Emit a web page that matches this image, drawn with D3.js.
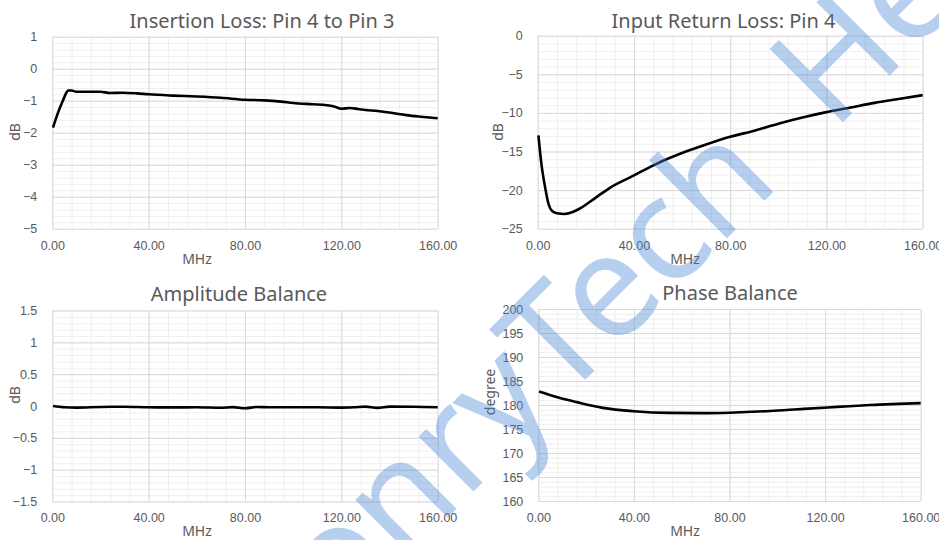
<!DOCTYPE html>
<html>
<head>
<meta charset="utf-8">
<script src="https://cdn.jsdelivr.net/npm/d3@7"></script>
<style>
  html, body { margin: 0; padding: 0; background: #fff; }
  svg { display: block; font-family: "Noto Sans", "Open Sans", sans-serif; }
</style>
</head>
<body>
<svg id="chart" width="939" height="540"></svg>
<script>
// ---- data ----
const xTicks = [0, 40, 80, 120, 160];

const ilFreq = [0.3, 2.5, 4.5, 5.5, 6.6, 8, 10, 15, 20, 24, 29, 35, 40, 50, 60, 70, 80, 88, 95, 100, 108, 114, 117, 120, 123.5, 127, 130, 135, 140, 147, 153, 160];
const ilLoss = [-1.84, -1.35, -0.98, -0.8, -0.68, -0.68, -0.72, -0.72, -0.72, -0.76, -0.75, -0.77, -0.8, -0.84, -0.87, -0.91, -0.97, -0.99, -1.03, -1.07, -1.11, -1.14, -1.18, -1.25, -1.23, -1.26, -1.29, -1.32, -1.37, -1.45, -1.5, -1.55];

const rlFreq = [0.3, 1.5, 3, 4.5, 6, 8, 11, 14, 18, 24, 30, 40, 50, 60, 70, 80, 90, 100, 110, 120, 130, 140, 150, 160];
const rlLoss = [-12.9, -16.5, -19.5, -21.8, -22.7, -23.0, -23.1, -22.9, -22.3, -21.0, -19.7, -18.1, -16.5, -15.2, -14.1, -13.1, -12.3, -11.4, -10.6, -9.9, -9.3, -8.7, -8.2, -7.7];

const abFreq = [0.3, 5, 10, 20, 30, 40, 50, 60, 70, 75, 80, 85, 90, 100, 110, 120, 125, 130, 135, 140, 150, 160];
const abDiff = [0.0, -0.02, -0.025, -0.015, -0.012, -0.02, -0.022, -0.02, -0.028, -0.018, -0.035, -0.015, -0.02, -0.02, -0.02, -0.025, -0.02, -0.01, -0.03, -0.01, -0.012, -0.02];

const pbFreq = [0.3, 8, 16, 27, 40, 55, 69, 80, 97, 111, 125, 139, 160];
const pbDeg = [182.8, 181.6, 180.6, 179.4, 178.7, 178.35, 178.3, 178.4, 178.75, 179.2, 179.6, 180.0, 180.4];

const panels = [
  { title: 'Insertion Loss: Pin 4 to Pin 3', yTitle: 'dB', x: ilFreq, y: ilLoss,
    left: 52.3, right: 437.7, top: 36.7, bottom: 228.7,
    yDomain: [-5, 1], yTicks: d3.range(-5, 1.01, 1), yFmt: d3.format('d'),
    titleX: 262, titleY: 28, xTitleX: 197, xTitleY: 264, yTitleX: 15, yTitleY: 132 },
  { title: 'Input Return Loss: Pin 4', yTitle: 'dB', x: rlFreq, y: rlLoss,
    left: 537.7, right: 922.7, top: 35.7, bottom: 228.7,
    yDomain: [-25, 0], yTicks: d3.range(-25, 0.01, 5), yFmt: d3.format('d'),
    titleX: 723.5, titleY: 28, xTitleX: 685, xTitleY: 264, yTitleX: 498, yTitleY: 132 },
  { title: 'Amplitude Balance', yTitle: 'dB', x: abFreq, y: abDiff,
    left: 52.3, right: 437.7, top: 310.5, bottom: 501.5,
    yDomain: [-1.5, 1.5], yTicks: d3.range(-1.5, 1.51, 0.5), yFmt: d => d3.format('')(+d.toFixed(1)),
    titleX: 239, titleY: 301, xTitleX: 197, xTitleY: 536, yTitleX: 15, yTitleY: 395 },
  { title: 'Phase Balance', yTitle: 'degree', x: pbFreq, y: pbDeg,
    left: 538.3, right: 920.7, top: 309, bottom: 501,
    yDomain: [160, 200], yTicks: d3.range(160, 200.1, 5), yFmt: d3.format('d'),
    titleX: 730, titleY: 300, xTitleX: 685, xTitleY: 536, yTitleX: 490, yTitleY: 392 }
];

const svg = d3.select('#chart');
const textColor = '#595959';

function drawPanel(p) {
  const xScale = d3.scaleLinear().domain([0, 160]).range([p.left, p.right]);
  const yScale = d3.scaleLinear().domain(p.yDomain).range([p.bottom, p.top]);
  const g = svg.append('g');

  // minor grid
  const yStep = p.yTicks[1] - p.yTicks[0];
  const yMinor = d3.range(p.yDomain[0], p.yDomain[1] + 1e-9, yStep / 5);
  const xMinor = d3.range(0, 160.01, 8);
  g.append('g').call(d3.axisLeft(yScale).tickValues(yMinor).tickSize(-(p.right - p.left)).tickFormat(''))
    .attr('transform', `translate(${p.left},0)`)
    .call(a => a.select('.domain').remove())
    .selectAll('line').attr('stroke', '#efefef');
  g.append('g').call(d3.axisBottom(xScale).tickValues(xMinor).tickSize(-(p.bottom - p.top)).tickFormat(''))
    .attr('transform', `translate(0,${p.bottom})`)
    .call(a => a.select('.domain').remove())
    .selectAll('line').attr('stroke', '#efefef');

  // major grid + labels
  g.append('g').call(d3.axisLeft(yScale).tickValues(p.yTicks).tickSize(-(p.right - p.left)).tickPadding(15).tickFormat(p.yFmt))
    .attr('transform', `translate(${p.left},0)`)
    .call(a => a.select('.domain').remove())
    .call(a => a.selectAll('line').attr('stroke', '#d9d9d9'))
    .call(a => a.selectAll('text').attr('fill', textColor).style('font-size', '12.5px'));
  g.append('g').call(d3.axisBottom(xScale).tickValues(xTicks).tickSize(-(p.bottom - p.top)).tickPadding(12).tickFormat(d3.format('.2f')))
    .attr('transform', `translate(0,${p.bottom})`)
    .call(a => a.select('.domain').remove())
    .call(a => a.selectAll('line').attr('stroke', '#d9d9d9'))
    .call(a => a.selectAll('text').attr('fill', textColor).style('font-size', '12.5px'));

  // series
  const pts = p.x.map((f, i) => [f, p.y[i]]);
  const line = d3.line().x(d => xScale(d[0])).y(d => yScale(d[1])).curve(d3.curveMonotoneX);
  g.append('path').datum(pts)
    .attr('d', line)
    .attr('fill', 'none')
    .attr('stroke', '#000')
    .attr('stroke-width', 2.6)
    .attr('stroke-linejoin', 'round');

  // titles
  g.append('text').attr('x', p.titleX).attr('y', p.titleY)
    .attr('text-anchor', 'middle').attr('fill', textColor)
    .style('font-size', '20px').text(p.title);
  g.append('text').attr('x', p.xTitleX).attr('y', p.xTitleY)
    .attr('text-anchor', 'middle').attr('fill', textColor)
    .style('font-size', '14px').text('MHz');
  g.append('text')
    .attr('transform', `translate(${p.yTitleX},${p.yTitleY}) rotate(-90)`)
    .attr('text-anchor', 'middle').attr('dy', '0.35em').attr('fill', textColor)
    .style('font-size', '14px').text(p.yTitle);
}

panels.forEach(drawPanel);

// watermark across the page
const wm = svg.append('text')
  .attr('transform', 'translate(617,276) rotate(-45)')
  .attr('fill', '#4a86d4')
  .attr('fill-opacity', 0.4)
  .style('font-size', '145px')
  .text('onry Tech He');
const wmWidth = wm.node().getComputedTextLength();
wm.text(null).attr('x', -wmWidth / 2).attr('y', 51);
wm.append('tspan').text('onry ');
wm.append('tspan').attr('dx', -35).text('Tech');
wm.append('tspan').attr('dx', 35).text(' He');
</script>
</body>
</html>
